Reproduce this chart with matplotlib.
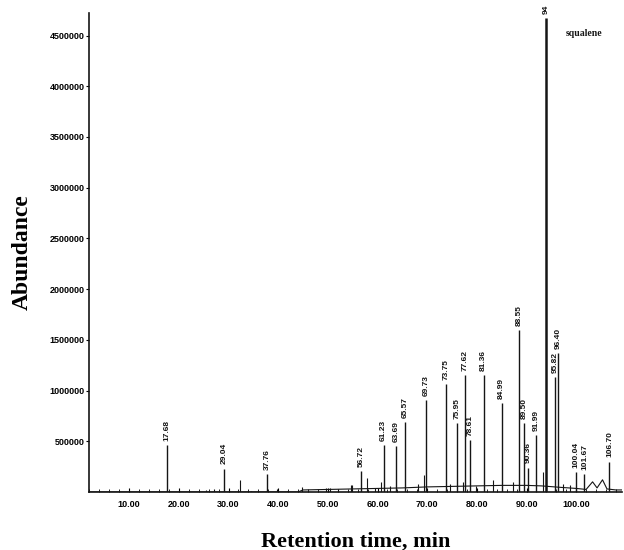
import numpy as np
import matplotlib.pyplot as plt

# labelled peaks: retention time (min), abundance
peak_labels = ['17.68', '29.04', '37.76', '56.72', '61.23', '63.69', '65.57', '69.73',
               '73.75', '75.95', '77.62', '78.61', '81.36', '84.99', '88.55', '89.50',
               '90.36', '91.99', '94', '95.82', '96.40', '100.04', '101.67', '106.70']
peak_times = [17.68, 29.04, 37.76, 56.72, 61.23, 63.69, 65.57, 69.73,
              73.75, 75.95, 77.62, 78.61, 81.36, 84.99, 88.55, 89.50,
              90.36, 91.99, 94.0, 95.82, 96.40, 100.04, 101.67, 106.70]
peak_heights = [460000, 230000, 180000, 210000, 460000, 450000, 690000, 910000,
                1060000, 680000, 1150000, 510000, 1150000, 880000, 1600000, 680000,
                240000, 560000, 4670000, 1130000, 1370000, 200000, 180000, 300000]

# small unlabelled peaks
minor_times = [25.5, 27.0, 32.3, 34.5, 39.7, 41.8, 44.8, 49.7, 50.5, 52.0, 54.6, 54.9,
               57.8, 59.5, 60.6, 62.5, 68.2, 69.4, 74.5, 77.2, 79.9, 83.3, 87.2,
               93.4, 97.3, 98.7]
minor_heights = [20000, 25000, 120000, 12000, 30000, 12000, 50000, 40000, 40000, 30000, 70000, 65000,
                 135000, 40000, 100000, 60000, 80000, 170000, 80000, 100000, 60000, 120000, 100000,
                 200000, 80000, 70000]

# baseline drift of the trace
base_t = [1.9, 44.0, 45.0, 50.0, 55.0, 60.0, 65.0, 70.0, 75.0, 80.0, 85.0, 90.0, 93.0,
          97.0, 100.0, 102.0, 103.3, 104.2, 105.3, 106.2, 108.0, 109.2]
base_v = [0, 0, 20000, 25000, 30000, 35000, 40000, 50000, 55000, 60000, 65000, 65000, 60000,
          45000, 35000, 25000, 100000, 40000, 120000, 30000, 20000, 20000]

y_ticks = [500000, 1000000, 1500000, 2000000, 2500000, 3000000, 3500000, 4000000, 4500000]
x_ticks = [10, 20, 30, 40, 50, 60, 70, 80, 90, 100]

fig = plt.figure(figsize=(6.24, 5.5), dpi=100)
ax = fig.add_axes([0.1426, 0.1055, 0.854, 0.8705])

ink = '#151515'
ax.plot(base_t, base_v, color=ink, lw=0.8)
ax.vlines(minor_times, 0, minor_heights, color=ink, lw=0.8)
widths = [1.8 if h > 3000000 else 1.0 for h in peak_heights]
ax.vlines(peak_times, 0, peak_heights, color=ink, lw=widths)

for lab, t, h in zip(peak_labels, peak_times, peak_heights):
    ax.annotate(lab, (t, h), xytext=(0, 3), textcoords='offset points',
                rotation=90, ha='center', va='bottom', fontsize=6,
                family='Liberation Sans', fontweight='bold', color=ink,
                annotation_clip=False)

ax.text(97.9, 4520000, 'squalene', family='Liberation Serif', fontweight='bold',
        fontsize=7, va='center', ha='left', color=ink)

ax.set_xlim(1.9, 109.2)
ax.set_ylim(0, 4720000)
ax.set_xticks(x_ticks)
ax.set_xticklabels(['%.2f' % v for v in x_ticks])
ax.set_xticks(np.arange(2, 110, 2), minor=True)
ax.set_yticks(y_ticks)
ax.set_yticklabels([str(v) for v in y_ticks])

for lab in ax.get_xticklabels() + ax.get_yticklabels():
    lab.set_family('Liberation Sans')
    lab.set_fontweight('bold')
    lab.set_fontsize(6.5)

ax.tick_params(axis='x', direction='in', length=3, width=0.8, pad=6)
ax.tick_params(axis='x', which='minor', direction='in', length=2, width=0.6)
ax.tick_params(axis='y', direction='out', length=2, width=0.8, pad=1)

for side in ['top', 'right']:
    ax.spines[side].set_visible(False)
for side in ['left', 'bottom']:
    ax.spines[side].set_linewidth(1.2)
    ax.spines[side].set_color(ink)

ax.set_xlabel('Retention time, min', family='Liberation Serif', fontweight='bold',
              fontsize=16, labelpad=16)
ax.set_ylabel('Abundance', family='Liberation Serif', fontweight='bold',
              fontsize=17, labelpad=12)

fig.savefig('out.png', dpi=100)
